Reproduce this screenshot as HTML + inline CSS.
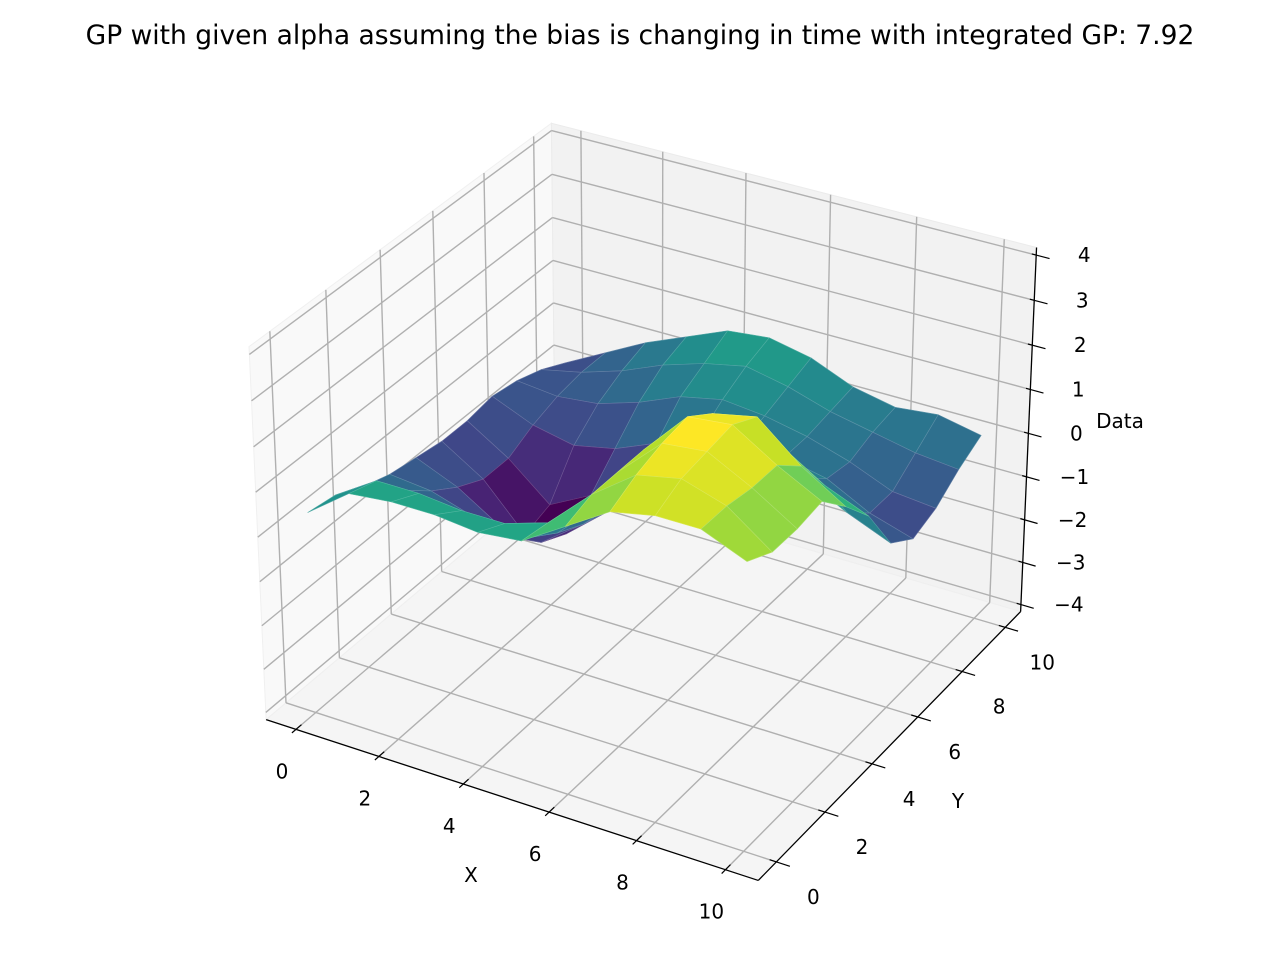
<!DOCTYPE html>
<html><head><meta charset="utf-8"><title>GP surface</title>
<style>html,body{margin:0;padding:0;background:#fff;}svg{display:block;font-family:"DejaVu Sans","Liberation Sans",sans-serif;}</style>
</head><body>
<svg id="chart" width="1280" height="960" viewBox="0 0 1280 960" xmlns="http://www.w3.org/2000/svg">
<rect x="0" y="0" width="1280" height="960" fill="#ffffff"/>
<text x="640" y="44" text-anchor="middle" font-size="26.5" fill="#000">GP with given alpha assuming the bias is changing in time with integrated GP: 7.92</text>
<g id="panes"></g>
<g id="grid"></g>
<g id="axes"></g>
<g id="surface"></g>
<text x="471" y="882" text-anchor="middle" font-size="20" fill="#000">X</text>
<text x="958" y="808" text-anchor="middle" font-size="20" fill="#000">Y</text>
<text x="1120" y="428" text-anchor="middle" font-size="20" fill="#000">Data</text>
</svg>
<script>
const xTicks = [0, 2, 4, 6, 8, 10];
const yTicks = [0, 2, 4, 6, 8, 10];
const zTicks = [-4, -3, -2, -1, 0, 1, 2, 3, 4];
const xGrid = [0, 1, 2, 3, 4, 5, 6, 7, 8, 9, 10];
const yGrid = [0, 1, 2, 3, 4, 5, 6, 7, 8, 9, 10];
// zValues[j][i] : row = y index, column = x index
const zValues = [
  [0.4, 1.1, 1.2, 1.2, 1.1, 1.2, 1.8, 2.4, 2.6, 2.6, 2.2],
  [0.3, 0.9, 0.9, 0.8, 0.8, 1.1, 2.0, 2.7, 2.9, 2.6, 1.9],
  [0.0, 0.2, 0.0, -0.2, 0.0, 0.7, 2.0, 2.9, 3.0, 2.5, 1.9],
  [-0.2, -0.3, -0.6, -0.8, -0.4, 0.5, 2.0, 3.0, 3.1, 2.5, 2.0],
  [-0.3, -0.7, -1.3, -1.4, -0.7, 0.2, 1.5, 2.6, 2.8, 2.0, 1.4],
  [-0.4, -1.0, -2.0, -1.7, -0.9, -0.1, 0.8, 1.6, 1.7, 1.1, 0.7],
  [-0.4, -1.0, -1.8, -1.3, -0.7, 0.0, 0.3, 0.5, 0.5, 0.0, -0.4],
  [-0.3, -0.7, -0.9, -0.7, -0.3, 0.1, 0.2, 0.2, 0.0, -0.5, -0.8],
  [-0.4, -0.5, -0.4, -0.1, 0.3, 0.5, 0.4, 0.2, -0.1, -0.5, -0.6],
  [-0.6, -0.4, -0.1, 0.3, 0.6, 0.8, 0.6, 0.3, 0.1, -0.1, -0.2],
  [-0.9, -0.4, 0.1, 0.5, 0.9, 1.0, 0.8, 0.4, 0.2, 0.3, 0.1]
];

const NS = "http://www.w3.org/2000/svg";
const pad = (a, b) => { const d = (b - a) / 48; return [a - d, b + d]; };
const [XMIN, XMAX] = pad(-0.5, 10.5);
const [YMIN, YMAX] = pad(-0.5, 10.5);
const [ZMIN, ZMAX] = pad(-4, 4);
const nrm = Math.sqrt(41), k = 1.8294640721620434 / nrm;
const BOX = [4 * k, 4 * k, 3 * k];
const elev = 30 * Math.PI / 180, azim = -60 * Math.PI / 180;
const ps = [Math.cos(elev) * Math.cos(azim), Math.cos(elev) * Math.sin(azim), Math.sin(elev)];
const R = BOX.map(v => v / 2);
const eye = R.map((r, i) => r + 10 * ps[i]);
const wv = ps;
let uv = [-wv[1], wv[0], 0]; const un = Math.hypot(uv[0], uv[1]); uv = uv.map(v => v / un);
const vv = [wv[1] * uv[2] - wv[2] * uv[1], wv[2] * uv[0] - wv[0] * uv[2], wv[0] * uv[1] - wv[1] * uv[0]];
function raw(x, y, z) {
  const p = [(x - XMIN) / (XMAX - XMIN) * BOX[0], (y - YMIN) / (YMAX - YMIN) * BOX[1], (z - ZMIN) / (ZMAX - ZMIN) * BOX[2]];
  const d = p.map((v, i) => v - eye[i]);
  const xv = d[0] * uv[0] + d[1] * uv[1] + d[2] * uv[2];
  const yv = d[0] * vv[0] + d[1] * vv[1] + d[2] * vv[2];
  const zv = d[0] * wv[0] + d[1] * wv[1] + d[2] * wv[2];
  return [xv / -zv, yv / -zv, -zv];
}
const anchors = [[[XMIN, YMAX, ZMAX], [553, 121]], [[XMAX, YMIN, ZMIN], [753, 880]], [[XMIN, YMIN, ZMIN], [266, 719]], [[XMAX, YMAX, ZMIN], [1022, 612]], [[XMIN, YMIN, ZMAX], [250, 348]], [[XMAX, YMAX, ZMAX], [1038, 249]]];
function fit(idx) {
  const a = anchors.map(an => raw(...an[0])[idx]), b = anchors.map(an => an[1][idx]);
  const ma = a.reduce((s, v) => s + v, 0) / a.length, mb = b.reduce((s, v) => s + v, 0) / b.length;
  let c = 0, vr = 0; a.forEach((v, i) => { c += (v - ma) * (b[i] - mb); vr += (v - ma) * (v - ma); });
  const s = c / vr; return [s, mb - s * ma];
}
const FX = fit(0), FY = fit(1);
function P(x, y, z) { const r = raw(x, y, z); return [FX[0] * r[0] + FX[1], FY[0] * r[1] + FY[1], r[2]]; }

function mk(tag, attrs, parent) { const e = document.createElementNS(NS, tag); for (const kk in attrs) e.setAttribute(kk, attrs[kk]); parent.appendChild(e); return e; }
const pts = arr => arr.map(p => p[0].toFixed(2) + "," + p[1].toFixed(2)).join(" ");

const panes = document.getElementById("panes");
let e;
e = mk("polygon", { points: pts([P(XMIN, YMIN, ZMIN), P(XMIN, YMAX, ZMIN), P(XMIN, YMAX, ZMAX), P(XMIN, YMIN, ZMAX)]), fill: "#f9f9f9", stroke: "#f0f0f0" }, panes);


e = mk("polygon", { points: pts([P(XMIN, YMAX, ZMIN), P(XMAX, YMAX, ZMIN), P(XMAX, YMAX, ZMAX), P(XMIN, YMAX, ZMAX)]), fill: "#f2f2f2", stroke: "#ebebeb" }, panes);


e = mk("polygon", { points: pts([P(XMIN, YMIN, ZMIN), P(XMAX, YMIN, ZMIN), P(XMAX, YMAX, ZMIN), P(XMIN, YMAX, ZMIN)]), fill: "#f5f5f5", stroke: "#efefef" }, panes);



const grid = document.getElementById("grid");
function gl(a, b, name) {
  const l = mk("polyline", { points: pts([a, b]), stroke: "#b0b0b0", "stroke-width": 1.4, fill: "none" }, grid);
  
  
}
xTicks.forEach(x => { gl(P(x, YMIN, ZMIN), P(x, YMAX, ZMIN), 'x-grid-floor'); gl(P(x, YMAX, ZMIN), P(x, YMAX, ZMAX), 'x-grid-back'); });
yTicks.forEach(y => { gl(P(XMIN, y, ZMIN), P(XMAX, y, ZMIN), 'y-grid-floor'); gl(P(XMIN, y, ZMIN), P(XMIN, y, ZMAX), 'y-grid-left'); });
zTicks.forEach(z => { gl(P(XMIN, YMIN, z), P(XMIN, YMAX, z), 'z-grid-left'); gl(P(XMIN, YMAX, z), P(XMAX, YMAX, z), 'z-grid-back'); });

const axes = document.getElementById("axes");
function line(a, b, name, w) {
  const l = mk("polyline", { points: pts([a, b]), stroke: "#000", "stroke-width": w, fill: "none" }, axes);
  
  
}
function label(x, y, txt, name) {
  const t = mk("text", { x: x.toFixed(1), y: (y + 7).toFixed(1), "text-anchor": "middle", "font-size": 20, fill: "#000" }, axes);
  t.textContent = txt;
  
  
}
const fmt = v => (v < 0 ? "\u2212" + Math.abs(v) : String(v));
line(P(XMIN, YMIN, ZMIN), P(XMAX, YMIN, ZMIN), 'x-axis-line', 1.3);
line(P(XMAX, YMIN, ZMIN), P(XMAX, YMAX, ZMIN), 'y-axis-line', 1.3);
line(P(XMAX, YMAX, ZMIN), P(XMAX, YMAX, ZMAX), 'z-axis-line', 1.3);
xTicks.forEach(x => {
  line(P(x, YMIN - 0.15, ZMIN), P(x, YMIN + 0.2, ZMIN), 'x-tick', 1.2);
  const a = P(x, YMIN, ZMIN); label(a[0] - 14, a[1] + 42, fmt(x), 'x-tick-label');
});
yTicks.forEach(y => {
  line(P(XMAX - 0.15, y, ZMIN), P(XMAX + 0.3, y, ZMIN), 'y-tick', 1.2);
  const a = P(XMAX, y, ZMIN); label(a[0] + 37, a[1] + 35, fmt(y), 'y-tick-label');
});
zTicks.forEach(z => {
  line(P(XMAX - 0.1, YMAX, z), P(XMAX + 0.3, YMAX, z), 'z-tick', 1.2);
  const a = P(XMAX, YMAX, z); label(a[0] + 48, a[1], fmt(z), 'z-tick-label');
});

const VIR = ["#440154", "#482475", "#414487", "#355f8d", "#2a788e", "#21918c", "#22a884", "#44bf70", "#7ad151", "#bddf26", "#fde725"];
const hx = h => [1, 3, 5].map(i => parseInt(h.substr(i, 2), 16));
function viridis(t) {
  t = Math.max(0, Math.min(1, t)); const f = t * 10, i = Math.min(9, Math.floor(f)), r = f - i;
  const a = hx(VIR[i]), b = hx(VIR[i + 1]);
  return a.map((v, kk) => v + (b[kk] - v) * r);
}
const faces = [];
for (let j = 0; j < yGrid.length - 1; j++) for (let i = 0; i < xGrid.length - 1; i++) {
  const cs = [[i, j], [i + 1, j], [i + 1, j + 1], [i, j + 1]];
  const pp = cs.map(c => P(xGrid[c[0]], yGrid[c[1]], zValues[c[1]][c[0]]));
  const avg = cs.reduce((s, c) => s + zValues[c[1]][c[0]], 0) / 4;
  const depth = pp.reduce((s, p) => s + p[2], 0) / 4;
  faces.push({ pp, avg, depth });
}
const zmin = Math.min(...faces.map(f => f.avg)), zmax = Math.max(...faces.map(f => f.avg));
faces.sort((a, b) => b.depth - a.depth);
const surf = document.getElementById("surface");
faces.forEach(f => {
  const c = viridis((f.avg - zmin) / (zmax - zmin));
  const fill = "rgb(" + c.map(v => Math.round(v)).join(",") + ")";
  const st = "rgb(" + c.map(v => Math.round(v + (255 - v) * 0.22)).join(",") + ")";
  const poly = mk("polygon", { points: pts(f.pp), fill: fill, stroke: st, "stroke-width": 0.6, "stroke-linejoin": "round" }, surf);
  
  
});
</script>
</body></html>
